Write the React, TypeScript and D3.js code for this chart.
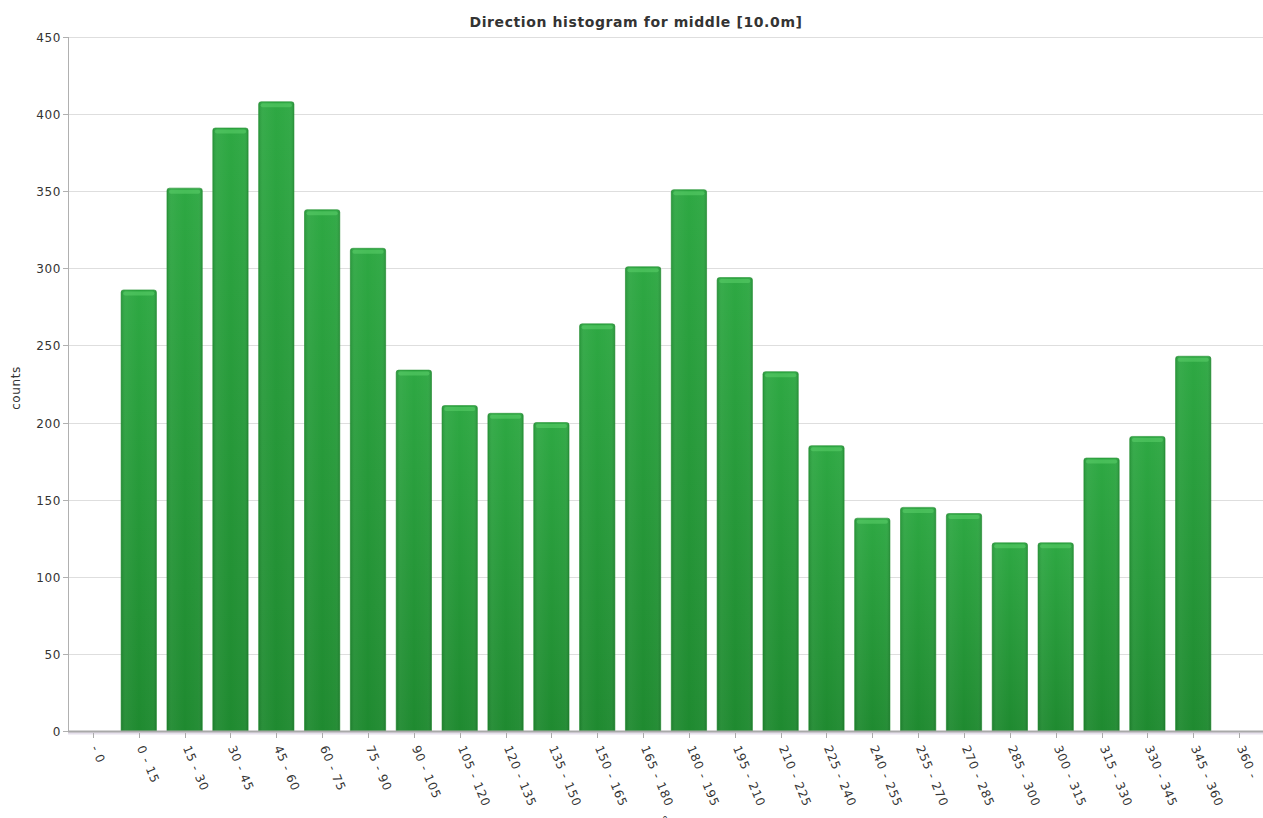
import React, { useEffect, useRef } from "react";
import * as d3 from "d3";

const categories = ["- 0", "0 - 15", "15 - 30", "30 - 45", "45 - 60", "60 - 75", "75 - 90", "90 - 105", "105 - 120", "120 - 135", "135 - 150", "150 - 165", "165 - 180", "180 - 195", "195 - 210", "210 - 225", "225 - 240", "240 - 255", "255 - 270", "270 - 285", "285 - 300", "300 - 315", "315 - 330", "330 - 345", "345 - 360", "360 -"];
const counts = [0, 286, 352, 391, 408, 338, 313, 234, 211, 206, 200, 264, 301, 351, 294, 233, 185, 138, 145, 141, 122, 122, 177, 191, 243, 0];
const yTicks = [0, 50, 100, 150, 200, 250, 300, 350, 400, 450];

const W = 1263, H = 818;
const M = { left: 70, right: 1262, top: 37, bottom: 731 };

export default function App() {
  const ref = useRef<SVGSVGElement>(null);
  useEffect(() => {
    const svg = d3.select(ref.current);
    svg.selectAll("*").remove();
    const font = "'DejaVu Sans', Verdana, sans-serif";

    const defs = svg.append("defs");
    const g1 = defs.append("linearGradient").attr("id", "barV").attr("x1", 0).attr("y1", 0).attr("x2", 0).attr("y2", 1);
    g1.append("stop").attr("offset", "0%").attr("stop-color", "#2ea843");
    g1.append("stop").attr("offset", "100%").attr("stop-color", "#1f8a30");
    const g2 = defs.append("linearGradient").attr("id", "barH").attr("x1", 0).attr("y1", 0).attr("x2", 1).attr("y2", 0);
    g2.append("stop").attr("offset", "0%").attr("stop-color", "#000").attr("stop-opacity", 0.1);
    g2.append("stop").attr("offset", "12%").attr("stop-color", "#fff").attr("stop-opacity", 0.05);
    g2.append("stop").attr("offset", "50%").attr("stop-color", "#fff").attr("stop-opacity", 0.0);
    g2.append("stop").attr("offset", "88%").attr("stop-color", "#fff").attr("stop-opacity", 0.03);
    g2.append("stop").attr("offset", "100%").attr("stop-color", "#000").attr("stop-opacity", 0.12);

    const x = d3.scaleBand<string>().domain(categories).range([M.left, M.right]).paddingInner(0.23).paddingOuter(0.115);
    const y = d3.scaleLinear().domain([0, 450]).range([M.bottom, M.top]);

    // gridlines
    svg.append("g").selectAll("line").data(yTicks.filter(t => t > 0)).join("line")
      .attr("x1", 68).attr("x2", W).attr("y1", d => Math.round(y(d)) + 0.5).attr("y2", d => Math.round(y(d)) + 0.5)
      .attr("stroke", "#dedede").attr("stroke-width", 1);

    // y axis
    svg.append("line").attr("x1", 68.5).attr("x2", 68.5).attr("y1", M.top).attr("y2", M.bottom)
      .attr("stroke", "#b0b0b0");
    const yt = svg.append("g").selectAll("g").data(yTicks).join("g")
      .attr("transform", d => `translate(0,${Math.round(y(d)) + 0.5})`);
    yt.append("line").attr("x1", 63).attr("x2", 68).attr("stroke", "#b0b0b0");
    yt.append("text").attr("x", 61).attr("dy", "0.35em").attr("text-anchor", "end")
      .attr("font-family", font).attr("font-size", 12).attr("letter-spacing", 0.6).attr("fill", "#333").text(d => d);

    // bars
    const data = categories.map((c, i) => ({ c, v: counts[i] })).filter(d => d.v > 0);
    const bars = svg.append("g").selectAll("g").data(data).join("g");
    bars.append("path")
      .attr("d", d => {
        const x0 = x(d.c)!, w = x.bandwidth(), y0 = y(d.v), yb = y(0), r = 2.5;
        return `M${x0},${yb} L${x0},${y0 + r} Q${x0},${y0} ${x0 + r},${y0} L${x0 + w - r},${y0} Q${x0 + w},${y0} ${x0 + w},${y0 + r} L${x0 + w},${yb} Z`;
      })
      .attr("fill", "url(#barV)").attr("stroke", "#22902f").attr("stroke-width", 0.6);
    bars.append("rect")
      .attr("x", d => x(d.c)!).attr("y", d => y(d.v)).attr("width", x.bandwidth()).attr("height", d => y(0) - y(d.v))
      .attr("fill", "url(#barH)");
    bars.append("rect")
      .attr("x", d => x(d.c)! + 2).attr("y", d => y(d.v) + 1.5).attr("width", x.bandwidth() - 4).attr("height", 4).attr("rx", 2)
      .attr("fill", "#5fd46e").attr("opacity", 0.5);

    // x axis base
    svg.append("line").attr("x1", 68).attr("x2", W).attr("y1", 733).attr("y2", 733)
      .attr("stroke", "#e6e0ec").attr("stroke-width", 3);
    svg.append("line").attr("x1", 68).attr("x2", W).attr("y1", 731.5).attr("y2", 731.5)
      .attr("stroke", "#a9a9a9").attr("stroke-width", 2);

    const xt = svg.append("g").selectAll("g").data(categories).join("g")
      .attr("transform", d => `translate(${Math.round(x(d)! + x.bandwidth() / 2) + 0.5},733)`);
    xt.append("line").attr("y1", 0).attr("y2", 5).attr("stroke", "#aaa");
    xt.append("text").attr("transform", "translate(1,13) rotate(67)")
      .attr("font-family", font).attr("font-size", 12).attr("letter-spacing", 0.8).attr("fill", "#333").attr("dy", "0.35em").text(d => d);

    // titles
    svg.append("text").attr("x", 636).attr("y", 27).attr("text-anchor", "middle")
      .attr("font-family", font).attr("font-size", 14).attr("letter-spacing", 0.6).attr("font-weight", "bold").attr("fill", "#333")
      .text("Direction histogram for middle [10.0m]");
    svg.append("text").attr("transform", "translate(20,388) rotate(-90)").attr("text-anchor", "middle")
      .attr("font-family", font).attr("font-size", 12).attr("letter-spacing", 0.6).attr("fill", "#333").text("counts");
    svg.append("text").attr("x", 665).attr("y", 825).attr("text-anchor", "middle")
      .attr("font-family", font).attr("font-size", 12).attr("fill", "#333").text("°");
  }, []);
  return (
    <svg ref={ref} width={W} height={H}
      style={{ position: "absolute", left: 0, top: 0, display: "block", background: "#fff" }} />
  );
}
